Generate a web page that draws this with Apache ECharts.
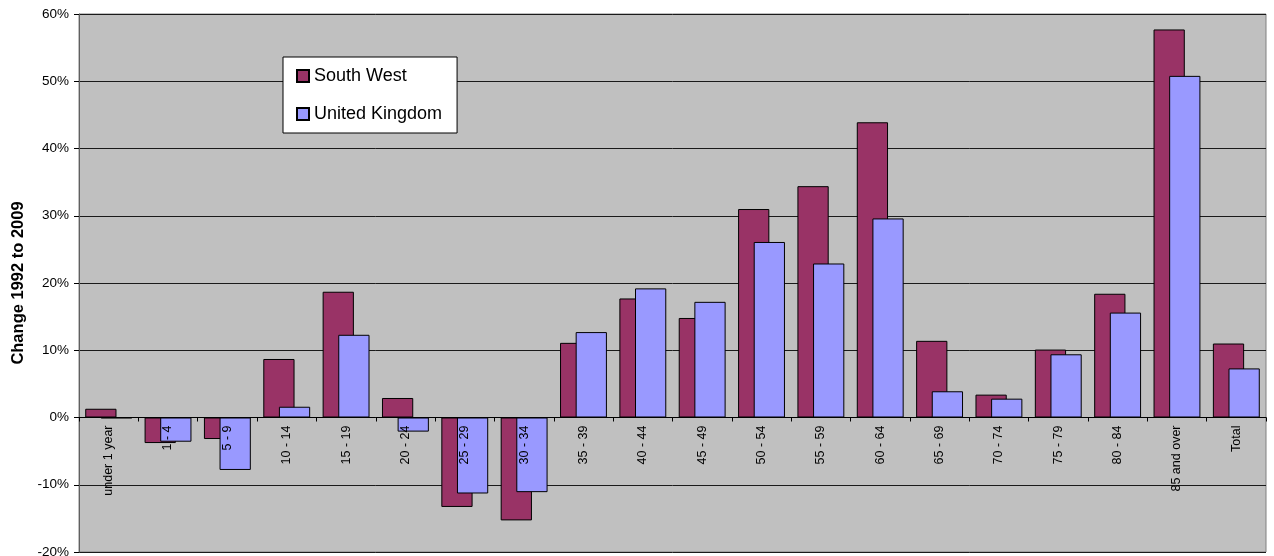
<!DOCTYPE html>
<html>
<head>
<meta charset="utf-8">
<script src="https://cdn.jsdelivr.net/npm/echarts@6/dist/echarts.min.js"></script>
<style>
  html, body { margin: 0; padding: 0; background: #fff; }
  #chart { width: 1274px; height: 556px; }
</style>
</head>
<body>
<div id="chart"></div>
<script>
// Age bands
const ageBands = ['under 1 year', '1 - 4', '5 - 9', '10 - 14', '15 - 19', '20 - 24', '25 - 29',
  '30 - 34', '35 - 39', '40 - 44', '45 - 49', '50 - 54', '55 - 59', '60 - 64', '65 - 69',
  '70 - 74', '75 - 79', '80 - 84', '85 and over', 'Total'];

// Percentage change in population, 1992 to 2009
const southWest = [1.3, -3.8, -3.2, 8.7, 18.7, 2.9, -13.3, -15.3, 11.1, 17.7, 14.8,
  31.0, 34.4, 43.9, 11.4, 3.4, 10.1, 18.4, 57.7, 11.0];
const unitedKingdom = [-0.1, -3.6, -7.8, 1.6, 12.3, -2.1, -11.3, -11.1, 12.7, 19.2, 17.2,
  26.1, 22.9, 29.6, 3.9, 2.8, 9.4, 15.6, 50.8, 7.3];

const seriesNames = ['South West', 'United Kingdom'];
const yTicks = { min: -20, max: 60, step: 10 };

const FONT = '"Liberation Sans", Arial, sans-serif';

const GRID = { left: 79, right: 8, top: 14, bottom: 4 };
const CHART_H = 556;
// Category axis sits on the 0% line: shift it up from the plot's bottom edge
const plotH = CHART_H - GRID.top - GRID.bottom;
const zeroShift = -plotH * (0 - yTicks.min) / (yTicks.max - yTicks.min);

const chart = echarts.init(document.getElementById('chart'), null, { renderer: 'canvas' });

chart.setOption({
  animation: false,
  backgroundColor: '#ffffff',
  textStyle: { fontFamily: FONT },
  grid: {
    left: GRID.left, right: GRID.right, top: GRID.top, bottom: GRID.bottom,
    outerBoundsMode: 'none',
    containLabel: false,
    show: true,
    backgroundColor: '#c0c0c0',
    borderColor: '#808080',
    borderWidth: 1
  },
  legend: {
    left: 283,
    top: 57,
    orient: 'vertical',
    backgroundColor: '#ffffff',
    borderColor: '#000000',
    borderWidth: 1,
    padding: [9, 15, 9, 13],
    itemGap: 18,
    itemWidth: 12,
    itemHeight: 12,
    icon: 'rect',
    textStyle: { fontSize: 18, color: '#000', fontFamily: FONT, lineHeight: 20 },
    data: seriesNames
  },
  xAxis: {
    type: 'category',
    data: ageBands,
    z: 10,
    offset: zeroShift,
    axisLine: { onZero: false, lineStyle: { color: '#000', width: 1 } },
    axisTick: { show: true, length: 4, lineStyle: { color: '#000' } },
    axisLabel: {
      rotate: 90,
      interval: 0,
      margin: 8,
      fontSize: 12.5,
      color: '#000',
      fontFamily: FONT
    },
    splitLine: { show: false }
  },
  yAxis: {
    type: 'value',
    min: yTicks.min,
    max: yTicks.max,
    interval: yTicks.step,
    name: 'Change 1992 to 2009',
    nameLocation: 'middle',
    nameRotate: 90,
    nameGap: 51,
    nameTextStyle: { fontSize: 16.5, fontWeight: 'bold', color: '#000', fontFamily: FONT },
    axisLine: { show: true, lineStyle: { color: '#606060', width: 1 } },
    axisTick: { show: true, length: 5, lineStyle: { color: '#000' } },
    axisLabel: {
      formatter: '{value}%',
      fontSize: 13.5,
      color: '#000',
      margin: 10,
      fontFamily: FONT
    },
    splitLine: { show: true, lineStyle: { color: '#1a1a1a', width: 1 } }
  },
  series: [
    {
      name: seriesNames[0],
      type: 'bar',
      data: southWest,
      barGap: '-50%',
      barCategoryGap: '21%',
      itemStyle: { color: '#993366', borderColor: '#000', borderWidth: 1 }
    },
    {
      name: seriesNames[1],
      type: 'bar',
      data: unitedKingdom,
      barGap: '-50%',
      barCategoryGap: '21%',
      itemStyle: { color: '#9999ff', borderColor: '#000', borderWidth: 1 }
    }
  ]
});
</script>
</body>
</html>
